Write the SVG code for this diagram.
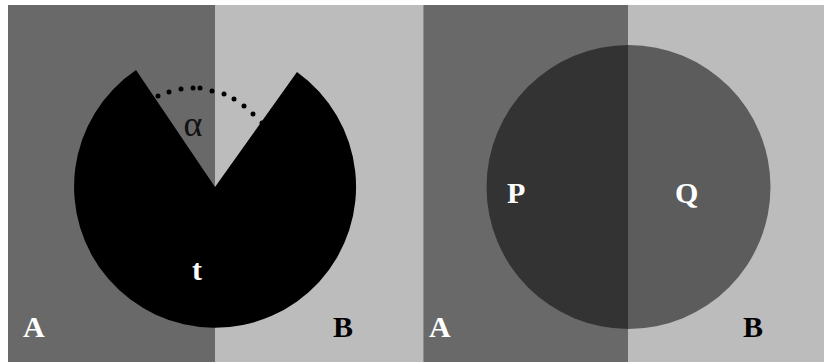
<svg xmlns="http://www.w3.org/2000/svg" width="824" height="362" viewBox="0 0 824 362">
  <style>
    .dark { fill: #696969; }
    .light { fill: #bcbcbc; }
    .lbl { font-family: "Liberation Serif", "Times New Roman", serif; font-weight: bold; font-size: 30px; }
    .greek { font-family: "Liberation Serif", "DejaVu Serif", serif; font-size: 36px; fill: #111111; }
    .blk { fill: #000000; }
    .wht { fill: #ffffff; }
    .dot { fill: #000000; }
  </style>
  <rect x="0" y="0" width="824" height="362" fill="#ffffff"/>

  <!-- left panel: two-tone background with notched disc -->
  <g id="left-panel">
    <rect class="dark" x="8" y="5" width="207" height="357"/>
    <rect class="light" x="215" y="5" width="208" height="357"/>
  </g>
  <g id="notched-disc">
    <path class="blk" d="M215,187 L136,70 A141,141 0 1 0 297,72 Z"/>
  </g>
  <g id="angle-arc">
    <circle class="dot" cx="158" cy="96" r="2.5"/>
    <circle class="dot" cx="169" cy="92" r="2.5"/>
    <circle class="dot" cx="181" cy="89" r="2.5"/>
    <circle class="dot" cx="193" cy="88" r="2.5"/>
    <circle class="dot" cx="200" cy="88" r="2.5"/>
    <circle class="dot" cx="212" cy="91" r="2.5"/>
    <circle class="dot" cx="224" cy="94" r="2.5"/>
    <circle class="dot" cx="234" cy="99" r="2.5"/>
    <circle class="dot" cx="244" cy="106" r="2.5"/>
    <circle class="dot" cx="253" cy="114" r="2.5"/>
    <circle class="dot" cx="262" cy="123" r="2.5"/>
  </g>
  <g id="left-labels">
    <text class="greek" x="193" y="136" text-anchor="middle">α</text>
    <text class="lbl wht" x="197" y="280" text-anchor="middle">t</text>
    <text class="lbl wht" x="23" y="337">A</text>
    <text class="lbl blk" x="333" y="337">B</text>
  </g>

  <!-- right panel: two-tone background with translucent disc -->
  <g id="right-panel">
    <rect class="dark" x="424" y="5" width="204" height="357"/>
    <rect class="light" x="628" y="5" width="196" height="357"/>
    <rect x="423" y="5" width="1" height="357" fill="#8f8f8f"/>
  </g>
  <g id="translucent-disc">
    <circle cx="628.5" cy="187" r="142" fill="#000000" fill-opacity="0.51"/>
  </g>
  <g id="right-labels">
    <text class="lbl wht" x="507" y="203">P</text>
    <text class="lbl wht" x="675" y="203">Q</text>
    <text class="lbl wht" x="429" y="337">A</text>
    <text class="lbl blk" x="743" y="337">B</text>
  </g>
</svg>
